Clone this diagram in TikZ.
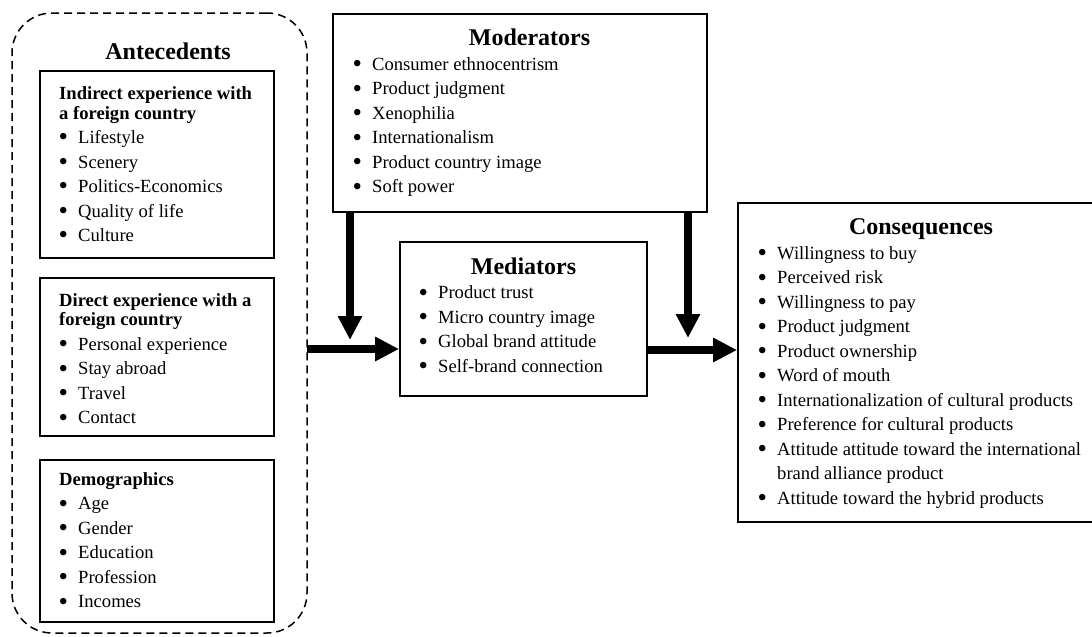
\documentclass[tikz,border=0pt]{standalone}
\usepackage{fontspec}
\setmainfont{Liberation Serif}
\usetikzlibrary{arrows.meta}
\newcommand{\bul}{\makebox[19pt][l]{\hspace{-0.5pt}\raisebox{-2.4pt}{\scalebox{1.45}{\textbullet}}}}
\newcommand{\contline}{\hspace*{19pt}}
\begin{document}
\begin{tikzpicture}[x=1pt,y=-1pt,
 box/.style={draw, line width=1.8pt, inner sep=0pt},
 dbox/.style={draw, line width=1.5pt, dash pattern=on 8pt off 5pt, rounded corners=40pt, inner sep=0pt},
 txt/.style={anchor=north west, align=left, inner sep=0pt, font=\fontsize{18.6}{24.5}\selectfont},
 ttl/.style={anchor=base, inner sep=0pt, font=\fontsize{24}{28}\selectfont\bfseries},
 bigarrow/.style={line width=7.5pt, -{Triangle[length=24pt,width=23pt]}}]
\useasboundingbox (0,0) rectangle (1092,637);

% Antecedents group
\node[dbox, minimum width=295pt, minimum height=620pt] (ante) at (159.5,323) {};
\node[ttl] (antet) at (168,59.5) {Antecedents};
\node[box, minimum width=234pt, minimum height=187pt] (ind) at (157,164.5) {};
\node[txt] (indt) at (59,82.2) {\strut\textbf{Indirect experience with}\\[-5pt]\textbf{a foreign country}\\
\bul Lifestyle\\ \bul Scenery\\ \bul Politics-Economics\\ \bul Quality of life\\ \bul Culture};
\node[box, minimum width=234pt, minimum height=158pt] (dir) at (157,357) {};
\node[txt] (dirt) at (59,288.9) {\strut\textbf{Direct experience with a}\\[-5pt]\textbf{foreign country}\\
\bul Personal experience\\ \bul Stay abroad\\ \bul Travel\\ \bul Contact};
\node[box, minimum width=234pt, minimum height=162pt] (dem) at (157,541) {};
\node[txt] (demt) at (59,468.6) {\strut\textbf{Demographics}\\[-0.5pt]
\bul Age\\ \bul Gender\\ \bul Education\\ \bul Profession\\ \bul Incomes};

% Moderators
\node[box, minimum width=374pt, minimum height=198pt] (mod) at (520,113) {};
\node[ttl] (modt) at (529.5,45.7) {Moderators};
\node[txt] (modl) at (353,52.9) {\strut\bul Consumer ethnocentrism\\ \bul Product judgment\\ \bul Xenophilia\\
\bul Internationalism\\ \bul Product country image\\ \bul Soft power};

% Mediators
\node[box, minimum width=247pt, minimum height=154pt] (med) at (523.5,319) {};
\node[ttl] (medt) at (523.5,274) {Mediators};
\node[txt] (medl) at (419,281.4) {\strut\bul Product trust\\ \bul Micro country image\\ \bul Global brand attitude\\ \bul Self-brand connection};

% Consequences
\node[box, minimum width=357pt, minimum height=319pt] (con) at (916.5,362.5) {};
\node[ttl] (cont) at (921,234) {Consequences};
\node[txt] (conl) at (758,241.9) {\strut\bul Willingness to buy\\ \bul Perceived risk\\ \bul Willingness to pay\\
\bul Product judgment\\ \bul Product ownership\\ \bul Word of mouth\\
\bul Internationalization of cultural products\\ \bul Preference for cultural products\\
\bul Attitude attitude toward the international\\ \contline brand alliance product\\
\bul Attitude toward the hybrid products};

% Arrows
\coordinate (h1) at (307,349);
\coordinate (h2) at (647,350);
\coordinate (v1) at (350,340);
\coordinate (v2) at (688,338);
\draw[bigarrow] (h1) -- (h1 -| med.west);
\draw[bigarrow] (h2 -| med.east) -- (h2 -| con.west);
\draw[bigarrow] (v1 |- mod.south) -- (v1);
\draw[bigarrow] (v2 |- mod.south) -- (v2);
\end{tikzpicture}
\end{document}
